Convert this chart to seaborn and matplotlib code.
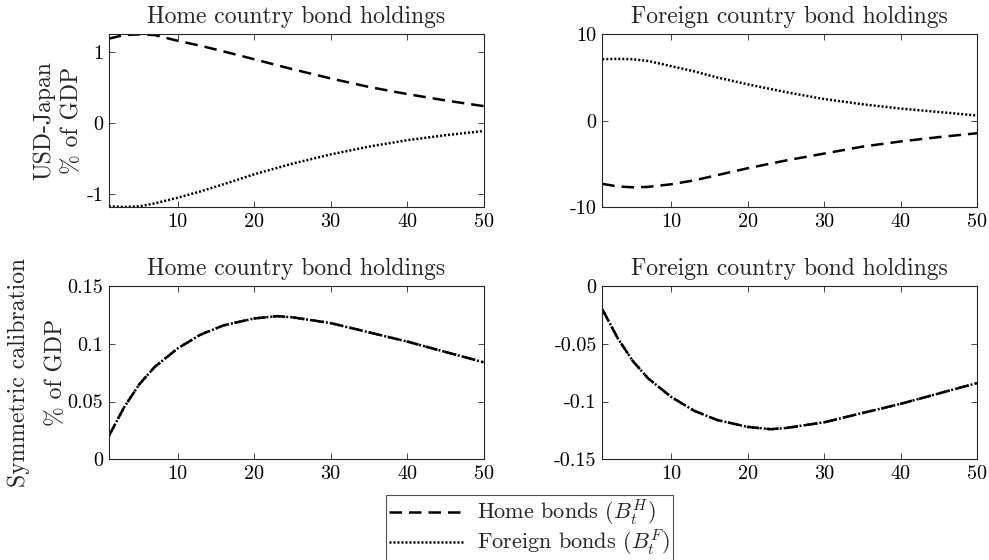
import numpy as np
import pandas as pd
import matplotlib
matplotlib.use("Agg")
import matplotlib.pyplot as plt
import seaborn as sns

# ---- data ----
t = [1, 3, 5, 7, 10, 13, 16, 20, 25, 30, 35, 40, 45, 50]
usd_home_H = [1.19, 1.24, 1.25, 1.24, 1.16, 1.09, 1.01, 0.90, 0.76, 0.63, 0.51, 0.41, 0.32, 0.24]
usd_home_F = [-1.17, -1.18, -1.17, -1.13, -1.05, -0.96, -0.86, -0.72, -0.57, -0.44, -0.33, -0.24, -0.17, -0.11]
usd_for_H = [-7.3, -7.6, -7.7, -7.65, -7.35, -6.9, -6.3, -5.5, -4.6, -3.8, -3.0, -2.4, -1.9, -1.45]
usd_for_F = [7.1, 7.15, 7.1, 6.9, 6.3, 5.7, 5.0, 4.2, 3.3, 2.5, 1.9, 1.4, 1.0, 0.6]

t_sym = [1, 3, 5, 7, 10, 13, 16, 20, 23, 25, 30, 35, 40, 45, 50]
sym_home = [0.020, 0.045, 0.065, 0.080, 0.096, 0.108, 0.116, 0.122, 0.124, 0.123, 0.118, 0.110, 0.102, 0.093, 0.084]
sym_for = [-0.020, -0.045, -0.065, -0.080, -0.096, -0.108, -0.116, -0.122, -0.124, -0.123, -0.118, -0.110, -0.102, -0.093, -0.084]

titles = ["Home country bond holdings", "Foreign country bond holdings"]
row_labels = ["USD-Japan\n% of GDP", "Symmetric calibration\n% of GDP"]
series_labels = [r"Home bonds ($B_t^H$)", r"Foreign bonds ($B_t^F$)"]
xticks = [10, 20, 30, 40, 50]
yticks = [[[-1, 0, 1], [-10, 0, 10]], [[0, 0.05, 0.1, 0.15], [-0.15, -0.1, -0.05, 0]]]
yticklabels = [[["-1", "0", "1"], ["-10", "0", "10"]],
               [["0", "0.05", "0.1", "0.15"], ["-0.15", "-0.1", "-0.05", "0"]]]
ylims = [[(-1.183, 1.253), (-10, 10)], [(0, 0.15), (-0.15, 0)]]

# ---- style ----
sns.set_style("ticks")
plt.rcParams["font.family"] = ["cmr10", "DejaVu Serif"]
plt.rcParams["mathtext.fontset"] = "cm"
plt.rcParams["axes.unicode_minus"] = False
plt.rcParams["axes.formatter.use_mathtext"] = True

fig = plt.figure(figsize=(9.89, 5.6), dpi=100)

L = [0.110, 0.609]
B = [0.630, 0.180]
W, H = 0.379, 0.309

panels = [
    [(t, usd_home_H, usd_home_F), (t, usd_for_H, usd_for_F)],
    [(t_sym, sym_home, sym_home), (t_sym, sym_for, sym_for)],
]
label_spacing = [1.35, 1.85]
label_pad = [2, 0.5]

edge = (0.15, 0.15, 0.15)
LW = 1.8
lines_for_legend = []
for r in range(2):
    for c in range(2):
        ax = fig.add_axes([L[c], B[r], W, H])
        x, yH, yF = panels[r][c]
        df = pd.DataFrame({"t": x, "H": yH, "F": yF})
        sns.lineplot(data=df, x="t", y="H", ax=ax, color="black", lw=LW,
                     linestyle=(0, (5.0, 2.8)), label=series_labels[0])
        sns.lineplot(data=df, x="t", y="F", ax=ax, color="black", lw=LW,
                     linestyle=(0, (0.8, 0.8)), label=series_labels[1])
        if r == 0 and c == 0:
            lines_for_legend = ax.get_legend_handles_labels()
        ax.get_legend().remove()
        ax.set_xlim(1, 50)
        ax.set_ylim(*ylims[r][c])
        ax.set_xticks(xticks)
        ax.set_xticklabels([str(v) for v in xticks])
        ax.set_yticks(yticks[r][c])
        ax.set_yticklabels(yticklabels[r][c])
        ax.set_xlabel("")
        if c == 0:
            ax.set_ylabel(row_labels[r], fontsize=17, labelpad=label_pad[r],
                          linespacing=label_spacing[r])
        else:
            ax.set_ylabel("")
        ax.set_title(titles[c], fontsize=17, pad=8)
        ax.tick_params(direction="in", top=True, right=True, length=4,
                       width=0.6, colors=edge, labelcolor="black", labelsize=14.5,
                       pad=4)
        for s in ax.spines.values():
            s.set_visible(True)
            s.set_color(edge)
            s.set_linewidth(0.8)

handles, labels = lines_for_legend
leg = fig.legend(handles, labels, loc="center", bbox_to_anchor=(0.5355, 0.057),
                 fontsize=16, frameon=True, fancybox=False, handlelength=3.4,
                 handletextpad=0.55, borderpad=0.15, labelspacing=0.0,
                 borderaxespad=0)
leg.get_frame().set_edgecolor(edge)
leg.get_frame().set_linewidth(0.8)

fig.savefig("out.png", dpi=100)
